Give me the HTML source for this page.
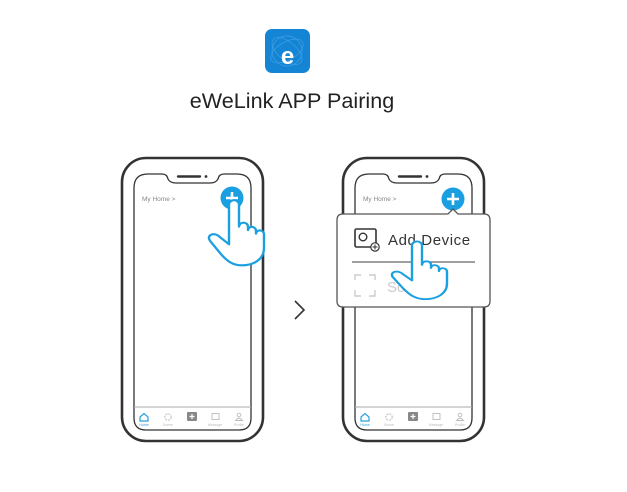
<!DOCTYPE html>
<html><head><meta charset="utf-8"><style>
html,body{margin:0;padding:0;background:#fff;}
svg{display:block;font-family:"Liberation Sans",sans-serif;}
</style></head><body>
<svg width="627" height="492" viewBox="0 0 627 492" xmlns="http://www.w3.org/2000/svg">
<defs>
<g id="phone">
  <rect x="0" y="0" width="141" height="283" rx="24" fill="#fff" stroke="#333" stroke-width="2.6"/>
  <path d="M12,30 Q12,16 26,16 L40,16 Q45,16 46,21 Q48,25 54,25 L88,25 Q94,25 96,21 Q97,16 102,16 L115,16 Q129,16 129,30 L129,260 Q129,272 117,272 L24,272 Q12,272 12,260 Z" fill="#fff" stroke="#333" stroke-width="1.3"/>
  <line x1="56" y1="18.5" x2="78" y2="18.5" stroke="#333" stroke-width="2.4" stroke-linecap="round"/>
  <circle cx="84" cy="18.5" r="1.4" fill="#333"/>
  <text x="20" y="43" font-size="6.5" fill="#888">My Home &gt;</text>
  <line x1="12" y1="249" x2="129" y2="249" stroke="#aaa" stroke-width="1"/>
  <path d="M18,259 L22,255.5 L26,259 L26,263 L18,263 Z" fill="none" stroke="#2aa0e0" stroke-width="1.2"/>
  <text x="22" y="268" font-size="3.5" fill="#2aa0e0" text-anchor="middle">Home</text>
  <circle cx="46" cy="259" r="3.2" fill="none" stroke="#bbb" stroke-width="1" stroke-dasharray="2 1"/>
  <text x="46" y="268" font-size="3.5" fill="#bbb" text-anchor="middle">Scene</text>
  <rect x="65" y="254" width="10" height="9" rx="1" fill="#888"/>
  <path d="M70,256 V261 M67.5,258.5 H72.5" stroke="#fff" stroke-width="1.2"/>
  <rect x="90" y="255.5" width="7" height="6" fill="none" stroke="#bbb" stroke-width="0.9"/>
  <text x="93" y="268" font-size="3.5" fill="#bbb" text-anchor="middle">Message</text>
  <circle cx="117" cy="257" r="1.8" fill="none" stroke="#bbb" stroke-width="0.9"/>
  <path d="M113.5,262.5 Q117,258 120.5,262.5 Z" fill="none" stroke="#bbb" stroke-width="0.9"/>
  <text x="117" y="268" font-size="3.5" fill="#bbb" text-anchor="middle">Profile</text>
</g>
<g id="hand">
  <path d="M-5,3 A5,5 0 0 1 5,3 L5,28 C5,22 14,22 14,28 L14,32 C14,27 22,27 22,33 L22,36 C22,31 30,31 30,37 L30,52 C30,65 20,72 8,72 C-2,72 -8,66 -14,58 L-24,44 C-28,38 -20,33 -14,40 L-5,48 Z" fill="#fff" stroke="#1a9fe0" stroke-width="2.4" stroke-linejoin="round"/>
</g>
</defs>

<rect x="265" y="29" width="45" height="44" rx="7" fill="#1484d4"/>
<g fill="none" stroke="#4fa6e6" stroke-width="0.7" opacity="0.8">
  <ellipse cx="287" cy="51" rx="18" ry="9" transform="rotate(-30 287 51)"/>
  <ellipse cx="287" cy="51" rx="18" ry="9" transform="rotate(40 287 51)"/>
  <circle cx="287" cy="51" r="15"/>
</g>
<text x="287.5" y="64" font-size="24" font-weight="bold" fill="#fff" text-anchor="middle">e</text>
<text x="292" y="108" font-size="21.6" fill="#222" text-anchor="middle">eWeLink APP Pairing</text>

<use href="#phone" x="122" y="158"/>
<circle cx="232" cy="198" r="11.5" fill="#1a9fe0"/>
<path d="M232,192 V204 M226,198 H238" stroke="#fff" stroke-width="2.6"/>
<use href="#hand" transform="translate(234 202) scale(1 0.88)"/>

<path d="M295,301 L304,310 L295,319" fill="none" stroke="#333" stroke-width="1.6"/>

<use href="#phone" x="343" y="158"/>
<circle cx="453" cy="199" r="11.5" fill="#1a9fe0"/>
<path d="M453,193 V205 M447,199 H459" stroke="#fff" stroke-width="2.6"/>
<path d="M343,214 L448,214 L453,209 L458,214 L484,214 Q490,214 490,220 L490,301 Q490,307 484,307 L343,307 Q337,307 337,301 L337,220 Q337,214 343,214 Z" fill="#fff" stroke="#555" stroke-width="1.3"/>
<rect x="355" y="229" width="21" height="18" rx="1.5" fill="none" stroke="#333" stroke-width="1.6"/>
<circle cx="363" cy="237" r="3.8" fill="none" stroke="#333" stroke-width="1.4"/>
<circle cx="375" cy="247" r="4.2" fill="#fff" stroke="#333" stroke-width="1.2"/>
<path d="M375,244.5 V249.5 M372.5,247 H377.5" stroke="#333" stroke-width="1"/>
<text x="388" y="245" font-size="15" fill="#333" letter-spacing="0.6">Add Device</text>
<line x1="352" y1="262" x2="475" y2="262" stroke="#666" stroke-width="1.2"/>
<g fill="none" stroke="#ccc" stroke-width="1.4">
  <path d="M355,280 V275 H361 M369,275 H375 V280 M375,290 V296 H369 M361,296 H355 V290"/>
</g>
<text x="387" y="292" font-size="15" fill="#ccc">Scan</text>
<use href="#hand" transform="translate(417 243) scale(1 0.78)"/>
</svg>
</body></html>
